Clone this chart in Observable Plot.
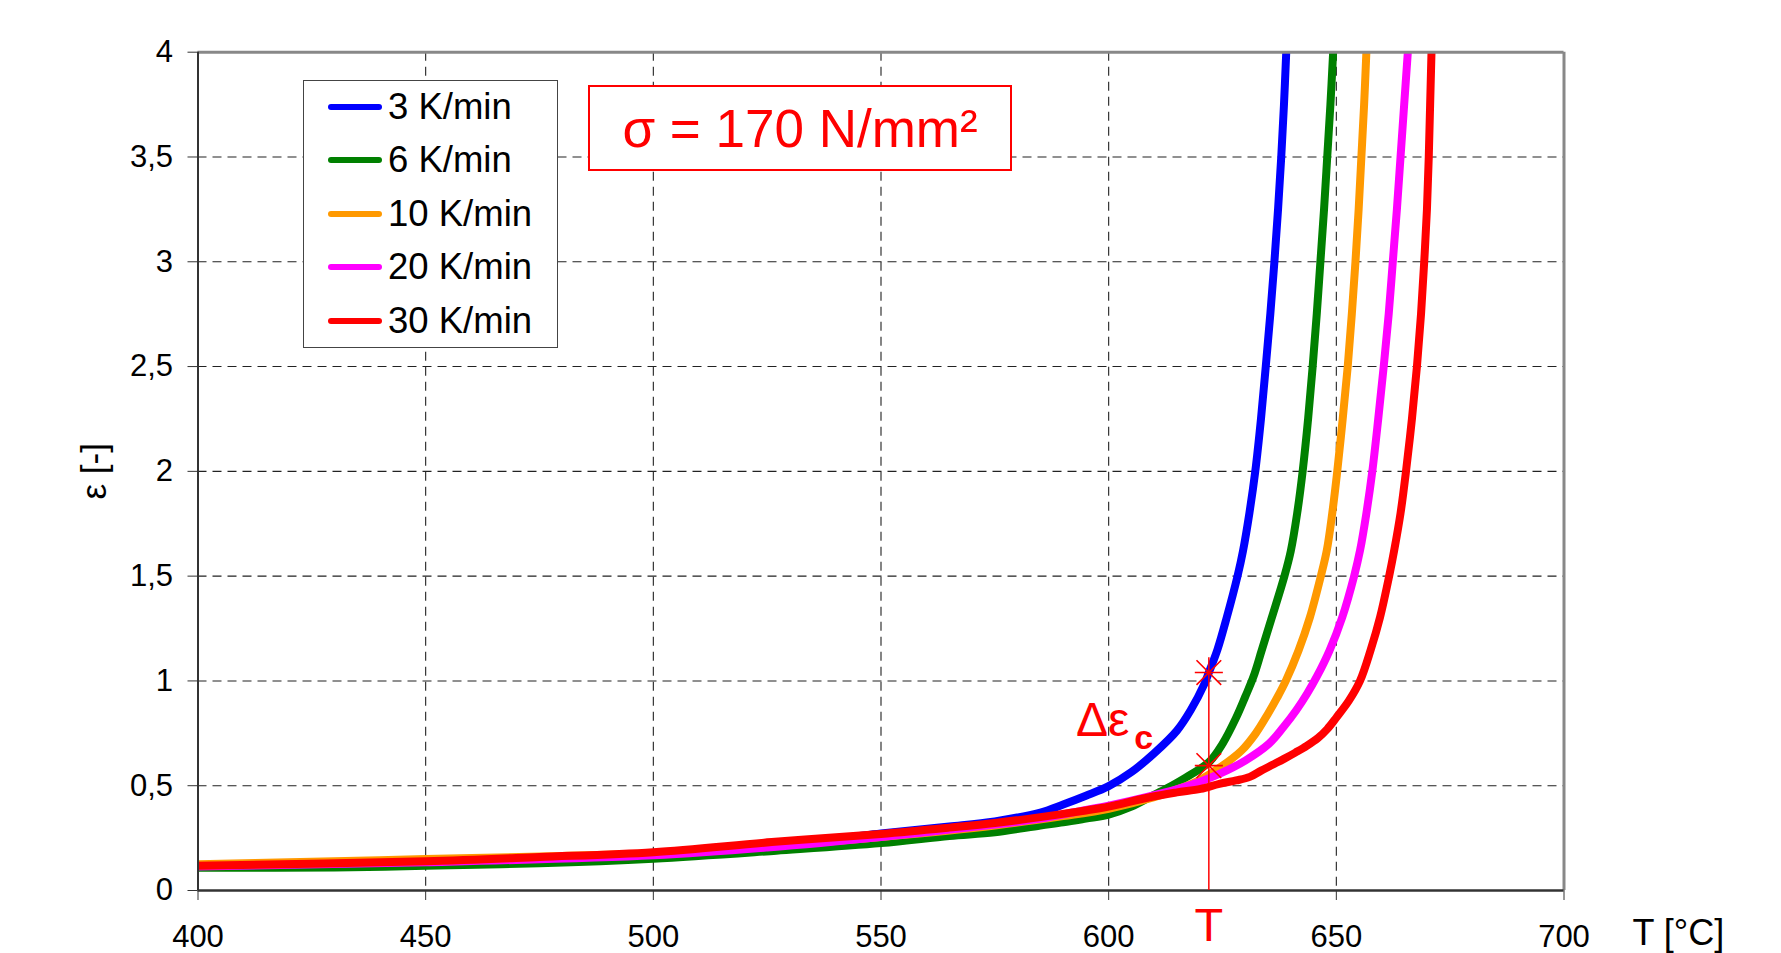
<!DOCTYPE html>
<html>
<head>
<meta charset="utf-8">
<script src="https://cdn.jsdelivr.net/npm/d3@7"></script>
<script src="https://cdn.jsdelivr.net/npm/@observablehq/plot@0.6"></script>
<style>
  html, body { margin: 0; padding: 0; background: #fff; }
  #wrap { position: relative; width: 1781px; height: 953px; font-family: "Liberation Sans", Arial, sans-serif; }
  #legend { position: absolute; left: 303px; top: 80px; width: 255px; height: 268px; box-sizing: border-box;
            border: 1.5px solid #444; background: #fff; }
  .row { position: absolute; left: 0; height: 0; }
  .sw { position: absolute; left: 24px; width: 54px; height: 6px; top: -3px; border-radius: 3px; }
  .lt { position: absolute; left: 84px; top: -21px; font-size: 36.5px; line-height: 42px; white-space: nowrap; color: #000; }
  #sigma { position: absolute; left: 588px; top: 85px; width: 424px; height: 86px; box-sizing: border-box;
           border: 2px solid #ff0000; background: #fff; color: #ff0000; font-size: 53px;
           display: flex; align-items: center; justify-content: center; white-space: nowrap; }
</style>
</head>
<body>
<div id="wrap">
  <div id="chart"></div>
  <div id="legend"></div>
  <div id="sigma"></div>
</div>
<script>
// ---------- data ----------
const seriesNames = ["3 K/min", "6 K/min", "10 K/min", "20 K/min", "30 K/min"];
const seriesColors = ["#0000ff", "#008000", "#ff9900", "#ff00ff", "#ff0000"];

const tBlue = [400, 420, 450, 480, 500, 525, 550, 565, 575, 585, 590, 595, 600, 605, 610, 615, 618, 621, 622, 623.9, 625.9, 628.3, 629.5, 630.9, 632.2, 633.45, 634.5, 635.5, 636.4, 637.2, 637.9, 638.5, 639.0];
const eBlue = [0.115, 0.12, 0.132, 0.15, 0.168, 0.21, 0.272, 0.305, 0.33, 0.372, 0.41, 0.452, 0.498, 0.565, 0.655, 0.763, 0.86, 0.985, 1.04, 1.15, 1.30, 1.50, 1.62, 1.8, 2.0, 2.25, 2.5, 2.75, 3.0, 3.25, 3.5, 3.75, 4.0];

const tGreen = [400, 430, 450, 475, 500, 527, 550, 565, 575, 585, 590, 595, 600, 605, 609, 613, 617, 622, 625, 628, 630, 631.8, 633.6, 635.8, 638.6, 640.0, 641.4, 642.6, 643.8, 644.8, 645.7, 646.5, 647.3, 648.0, 648.7, 649.3];
const eGreen = [0.108, 0.11, 0.118, 0.13, 0.152, 0.19, 0.226, 0.26, 0.278, 0.31, 0.325, 0.343, 0.362, 0.40, 0.445, 0.49, 0.54, 0.612, 0.70, 0.825, 0.925, 1.02, 1.145, 1.30, 1.50, 1.62, 1.8, 2.0, 2.25, 2.5, 2.75, 3.0, 3.25, 3.5, 3.75, 4.0];

const tOrange = [400, 420, 450, 480, 500, 525, 550, 575, 590, 600, 610, 616, 620.2, 624.3, 629.2, 632.3, 634.9, 637.0, 638.9, 641.7, 644.2, 646.6, 647.9, 649.1, 650.2, 651.4, 652.5, 653.4, 654.2, 654.9, 655.5, 656.1, 656.6];
const eOrange = [0.125, 0.135, 0.15, 0.165, 0.178, 0.21, 0.255, 0.31, 0.355, 0.39, 0.445, 0.49, 0.53, 0.585, 0.668, 0.75, 0.84, 0.92, 1.0, 1.145, 1.304, 1.5, 1.622, 1.8, 2.0, 2.25, 2.5, 2.75, 3.0, 3.25, 3.5, 3.75, 4.0];

const tMagenta = [400, 450, 500, 525, 550, 575, 585, 595, 600, 610, 616, 620.2, 624.3, 630, 635.2, 638.4, 641.2, 643.6, 645.7, 648.5, 651.3, 653.9, 655.2, 656.6, 657.9, 659.2, 660.4, 661.5, 662.4, 663.3, 664.1, 664.9, 665.7];
const eMagenta = [0.115, 0.135, 0.168, 0.205, 0.255, 0.315, 0.343, 0.385, 0.405, 0.455, 0.49, 0.52, 0.556, 0.62, 0.70, 0.78, 0.86, 0.94, 1.02, 1.145, 1.304, 1.5, 1.622, 1.8, 2.0, 2.25, 2.5, 2.75, 3.0, 3.25, 3.5, 3.75, 4.0];

const tRed = [400, 450, 475, 500, 526, 550, 565, 575, 585, 595, 600, 609, 615, 620.2, 624.3, 628, 631, 633.5, 636, 638.5, 641, 643.5, 646, 648, 650, 652.8, 655.2, 657.5, 659.6, 661.6, 662.7, 664.1, 665.3, 666.6, 667.7, 668.6, 669.3, 669.9, 670.3, 670.6, 670.9];
const eRed = [0.118, 0.14, 0.16, 0.183, 0.231, 0.27, 0.30, 0.322, 0.35, 0.382, 0.40, 0.445, 0.468, 0.485, 0.509, 0.525, 0.542, 0.572, 0.60, 0.628, 0.658, 0.69, 0.728, 0.77, 0.825, 0.907, 1.0, 1.145, 1.304, 1.5, 1.622, 1.8, 2.0, 2.25, 2.5, 2.75, 3.0, 3.25, 3.5, 3.75, 4.0];

const xTicks = [400, 450, 500, 550, 600, 650, 700];
const yTicks = [0, 0.5, 1, 1.5, 2, 2.5, 3, 3.5, 4];

// annotation values
const markT = [622];
const markEps = [1.04, 0.596];
const markTop = [1.11];
const sigmaText = "σ = 170 N/mm²";

// ---------- build ----------
const allT = [tBlue, tGreen, tOrange, tMagenta, tRed];
const allE = [eBlue, eGreen, eOrange, eMagenta, eRed];
const series = allT.map((ts, i) => ts.map((t, j) => ({T: t, eps: allE[i][j]})));

const starSymbol = {
  draw(ctx, size) {
    const r = Math.sqrt(size / Math.PI);
    ctx.moveTo(-r * 1.08, 0); ctx.lineTo(r * 1.08, 0);
    ctx.moveTo(-r * 0.95, -r * 0.95); ctx.lineTo(r * 0.95, r * 0.95);
    ctx.moveTo(-r * 0.95, r * 0.95); ctx.lineTo(r * 0.95, -r * 0.95);
  }
};

const fmtComma = d => String(d).replace(".", ",");
const gridStyle = {stroke: "#222", strokeOpacity: 1, strokeWidth: 1.1, strokeDasharray: "9,6"};

const chart = Plot.plot({
  width: 1781,
  height: 953,
  marginLeft: 197.5,
  marginRight: 217.5,
  marginTop: 51.7,
  marginBottom: 63,
  style: {fontFamily: "'Liberation Sans', Arial, sans-serif", background: "white", overflow: "visible", color: "#000"},
  x: {domain: [400, 700]},
  y: {domain: [0, 4]},
  marks: [
    Plot.gridX(xTicks.slice(1, -1), gridStyle),
    Plot.gridY(yTicks.slice(1, -1), gridStyle),
    ...series.map((d, i) => Plot.line(d, {
      x: "T", y: "eps", stroke: seriesColors[i], strokeWidth: 8,
      curve: "catmull-rom", clip: true, strokeLinejoin: "round"
    })),
    Plot.ruleY([4], {stroke: "#888", strokeWidth: 3}),
    Plot.ruleX([700], {stroke: "#888", strokeWidth: 3}),
    Plot.ruleX([400], {stroke: "#333", strokeWidth: 2}),
    Plot.ruleY([0], {stroke: "#333", strokeWidth: 2.5}),
    Plot.axisX(xTicks, {tickSize: 10, tickPadding: 24, fontSize: 31, label: null, stroke: "#333", fill: "#000"}),
    Plot.axisY(yTicks, {tickSize: 10, tickPadding: 15, fontSize: 31, label: null, stroke: "#333", fill: "#000", tickFormat: fmtComma}),
    // axis titles
    Plot.text(["ε [-]"], {frameAnchor: "left", dx: -103.5, rotate: -90, fontSize: 35, fill: "#000", textAnchor: "middle"}),
    Plot.text(["T [°C]"], {frameAnchor: "bottom-right", dx: 68.5, dy: 54, fontSize: 36, fill: "#000", textAnchor: "start"}),
    // annotation
    Plot.ruleX(markT, {y1: 0, y2: markTop[0], stroke: "#ff0000", strokeWidth: 1.5}),
    Plot.dot(markEps, {x: markT[0], y: d => d, symbol: starSymbol, r: 13, stroke: "#ff0000", strokeWidth: 1.6, fill: "none"}),
    Plot.text(["T"], {x: markT[0], y: -0.168, fontSize: 47, fill: "#ff0000", textAnchor: "middle"}),
    Plot.text(["Δε"], {x: 592.8, y: 0.81, fontSize: 48, fill: "#ff0000", textAnchor: "start"}),
    Plot.text(["c"], {x: 605.6, y: 0.725, fontSize: 34, fontWeight: "bold", fill: "#ff0000", textAnchor: "start"})
  ]
});
document.getElementById("chart").appendChild(chart);

// legend
const legend = document.getElementById("legend");
seriesNames.forEach((name, i) => {
  const row = document.createElement("div");
  row.className = "row";
  row.style.top = (25.5 + i * 53.6) + "px";
  const sw = document.createElement("div");
  sw.className = "sw";
  sw.style.background = seriesColors[i];
  const lt = document.createElement("div");
  lt.className = "lt";
  lt.textContent = name;
  row.appendChild(sw); row.appendChild(lt);
  legend.appendChild(row);
});
document.getElementById("sigma").textContent = sigmaText;
</script>
</body>
</html>
